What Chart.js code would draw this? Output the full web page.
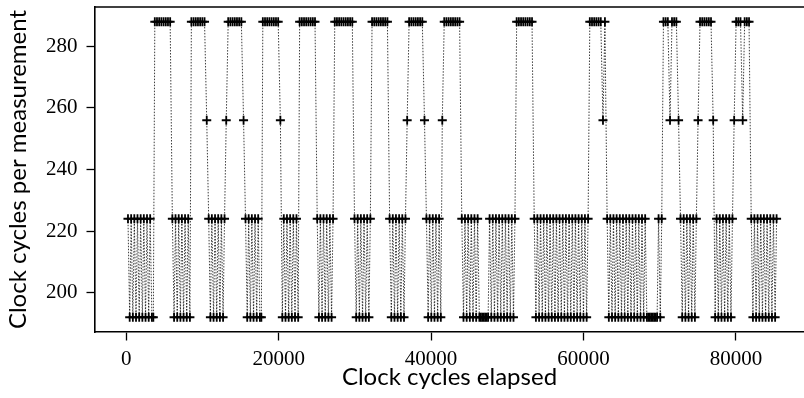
<!DOCTYPE html>
<html>
<head>
<meta charset="utf-8">
<script src="https://cdn.jsdelivr.net/npm/chart.js@4.4.1/dist/chart.umd.min.js"></script>
<style>
  html, body { margin: 0; padding: 0; background: #fff; }
  #c { display: block; }
</style>
</head>
<body>
<canvas id="c" width="804" height="398"></canvas>
<script>
const cyclesElapsed = [
  220,444,636,860,1052,1276,1468,1692,1884,2108,2300,2524,2716,2940,3132,3356,3548,
  3740,4028,4316,4604,4892,5180,5468,5756,
  6044,6268,6460,6684,6876,7100,7292,7516,7708,7932,8124,8348,
  8540,8828,9116,9404,9692,9980,10268,10556,
  10812,11036,11228,11452,11644,11868,12060,12284,12476,12700,12892,13116,
  13372,13660,13948,14236,14524,14812,15100,15388,
  15644,15868,16060,16284,16476,16700,16892,17116,17308,17532,17724,
  17916,18204,18492,18780,19068,19356,19644,19932,20220,
  20476,20668,20892,21084,21308,21500,21724,21916,22140,22332,22556,
  22748,23036,23324,23612,23900,24188,24476,24764,
  25052,25276,25468,25692,25884,26108,26300,26524,26716,26940,27132,
  27356,27644,27932,28220,28508,28796,29084,29372,29660,
  29948,30172,30364,30588,30780,31004,31196,31420,31612,31836,32028,
  32252,32540,32828,33116,33404,33692,33980,34268,
  34556,34780,34972,35196,35388,35612,35804,36028,36220,36444,36636,36860,
  37116,37404,37692,37980,38268,38556,38844,39132,
  39388,39612,39804,40028,40220,40444,40636,40860,41052,41276,41468,
  41724,42012,42300,42588,42876,43164,43452,43740,
  44028,44252,44444,44668,44860,45084,45276,45500,45692,45916,46108,46332,46524,46716,46908,47100,47292,47484,47676,47900,48092,48316,48508,48732,48924,49148,49340,49564,49756,49980,50172,50396,50588,50812,51004,
  51228,51516,51804,52092,52380,52668,52956,53244,
  53532,53756,53948,54172,54364,54588,54780,55004,55196,55420,55612,55836,56028,56252,56444,56668,56860,57084,57276,57500,57692,57916,58108,58332,58524,58748,58940,59164,59356,59580,59772,59996,60188,60412,60604,
  60828,61116,61404,61692,61980,62268,62556,62812,
  63100,63324,63516,63740,63932,64156,64348,64572,64764,64988,65180,65404,65596,65820,66012,66236,66428,66652,66844,67068,67260,67484,67676,67900,68092,68316,68508,68700,68892,69084,69276,69468,69660,69852,70076,70268,
  70492,70780,71068,71356,71612,71900,72188,72476,
  72732,72956,73148,73372,73564,73788,73980,74204,74396,74620,74812,75036,
  75292,75580,75868,76156,76444,76732,77020,
  77276,77468,77692,77884,78108,78300,78524,78716,78940,79132,79356,79548,79772,
  80028,80316,80604,80892,81148,81436,81724,
  82012,82236,82428,82652,82844,83068,83260,83484,83676,83900,84092,84316,84508,84732,84924,85148,85340
];

// Clock cycles per measurement (y) for each measurement
const cyclesPerMeasurement = [
  224,192,224,192,224,192,224,192,224,192,224,192,224,192,224,192,192,
  288,288,288,288,288,288,288,288,
  224,192,224,192,224,192,224,192,224,192,224,192,
  288,288,288,288,288,288,288,256,
  224,192,224,192,224,192,224,192,224,192,224,256,
  288,288,288,288,288,288,288,256,
  224,192,224,192,224,192,224,192,224,192,192,
  288,288,288,288,288,288,288,288,256,
  192,224,192,224,192,224,192,224,192,224,192,
  288,288,288,288,288,288,288,288,
  224,192,224,192,224,192,224,192,224,192,224,
  288,288,288,288,288,288,288,288,288,
  224,192,224,192,224,192,224,192,224,192,224,
  288,288,288,288,288,288,288,288,
  224,192,224,192,224,192,224,192,224,192,224,256,
  288,288,288,288,288,288,288,256,
  224,192,224,192,224,192,224,192,224,192,256,
  288,288,288,288,288,288,288,288,
  224,192,224,192,224,192,224,192,224,192,224,192,192,192,192,192,192,192,224,192,224,192,224,192,224,192,224,192,224,192,224,192,224,192,224,
  288,288,288,288,288,288,288,288,
  224,192,224,192,224,192,224,192,224,192,224,192,224,192,224,192,224,192,224,192,224,192,224,192,224,192,224,192,224,192,224,192,224,192,224,
  288,288,288,288,288,288,256,288,
  224,192,224,192,224,192,224,192,224,192,224,192,224,192,224,192,224,192,224,192,224,192,224,192,224,192,192,192,192,192,192,192,192,224,192,224,
  288,288,288,256,288,288,288,256,
  224,192,224,192,224,192,224,192,224,192,224,256,
  288,288,288,288,288,288,256,
  192,224,192,224,192,224,192,224,192,224,192,224,256,
  288,288,288,256,288,288,288,
  224,192,224,192,224,192,224,192,224,192,224,192,224,192,224,192,224
];

const xTickValues = [0, 20000, 40000, 60000, 80000];
const yTickValues = [200, 220, 240, 260, 280];
const xTitle = 'Clock cycles elapsed';
const yTitle = 'Clock cycles per measurement';

const points = cyclesElapsed.map((x, i) => ({ x: x, y: cyclesPerMeasurement[i] }));

const topBorder = {
  id: 'topBorder',
  afterDraw(chart) {
    const { ctx, chartArea } = chart;
    ctx.save();
    ctx.strokeStyle = '#000';
    ctx.lineWidth = 1.6;
    ctx.beginPath();
    ctx.moveTo(chartArea.left - 0.8, chartArea.top);
    ctx.lineTo(chartArea.right + 2, chartArea.top);
    ctx.stroke();
    ctx.restore();
  }
};

const tickFont = { family: "'Liberation Serif', 'Times New Roman', serif", size: 21 };
const titleFont = { family: "Lato, 'Open Sans', sans-serif", size: 24 };

new Chart(document.getElementById('c'), {
  type: 'line',
  data: {
    datasets: [{
      data: points,
      borderColor: 'rgba(0,0,0,0.85)',
      borderWidth: 0.9,
      borderDash: [1.5, 1.5],
      tension: 0,
      fill: false,
      pointStyle: 'cross',
      pointRadius: 4.5,
      pointBorderWidth: 1.8,
      pointBorderColor: '#000',
      pointBackgroundColor: '#000',
      pointHoverRadius: 4.5
    }]
  },
  options: {
    responsive: false,
    animation: false,
    devicePixelRatio: 1,
    events: [],
    layout: { autoPadding: false, padding: { top: 7, left: 0, right: 0, bottom: 0 } },
    plugins: { legend: { display: false }, tooltip: { enabled: false } },
    scales: {
      x: {
        type: 'linear',
        min: -4108,
        max: 88937,
        afterBuildTicks(scale) { scale.ticks = xTickValues.map(v => ({ value: v })); },
        afterFit(scale) { scale.height = 66; scale.paddingLeft = 0; scale.paddingRight = 0; },
        grid: { display: true, drawOnChartArea: false, drawTicks: true, tickLength: 8.5, tickWidth: 1.3, tickColor: '#000' },
        border: { display: true, color: '#000', width: 1.6 },
        ticks: { color: '#000', font: tickFont, padding: 6.5, maxRotation: 0, autoSkip: false,
                 callback: v => String(v) },
        title: { display: true, text: xTitle, color: '#000', font: titleFont, padding: { top: 0, bottom: 6 } }
      },
      y: {
        type: 'linear',
        min: 187.2,
        max: 292.8,
        afterBuildTicks(scale) { scale.ticks = yTickValues.map(v => ({ value: v })); },
        afterFit(scale) { scale.width = 95; scale.paddingTop = 0; scale.paddingBottom = 0; },
        grid: { display: true, drawOnChartArea: false, drawTicks: true, tickLength: 8.5, tickWidth: 1.3, tickColor: '#000' },
        border: { display: true, color: '#000', width: 1.6 },
        ticks: { color: '#000', font: tickFont, padding: 9, autoSkip: false,
                 callback: v => String(v) },
        title: { display: true, text: yTitle, color: '#000', font: titleFont, padding: { top: 3.5, bottom: 0 } }
      }
    }
  },
  plugins: [topBorder]
});
</script>
</body>
</html>
